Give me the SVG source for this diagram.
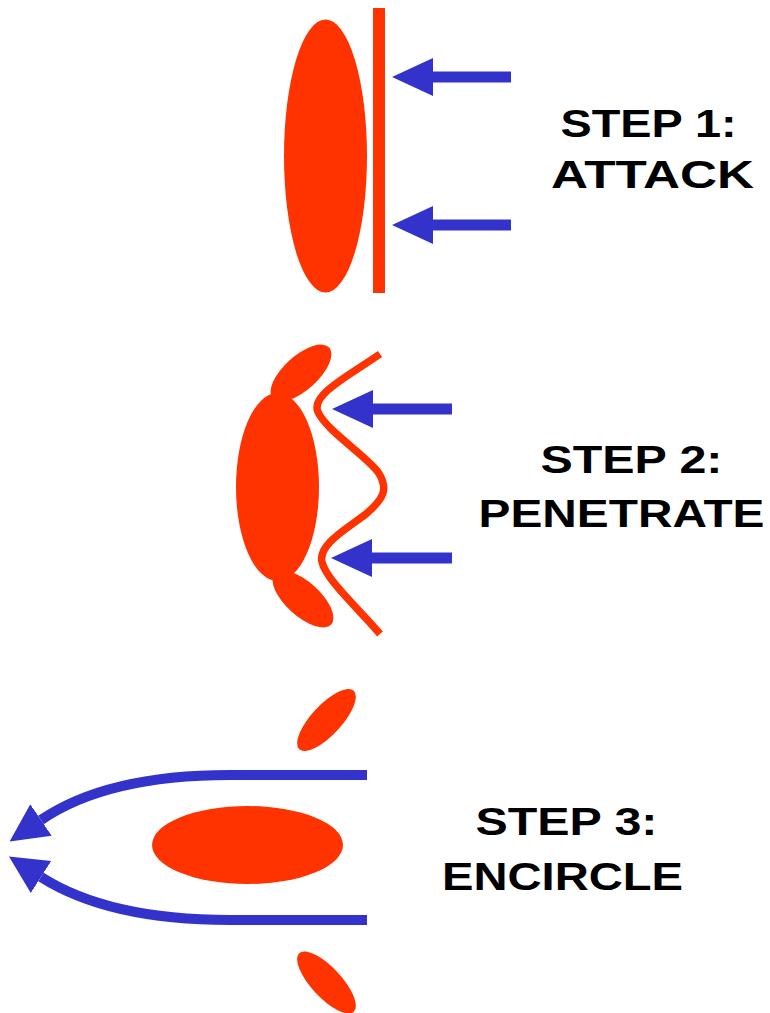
<svg xmlns="http://www.w3.org/2000/svg" width="770" height="1013" viewBox="0 0 770 1013">
  <style>
    .red { fill: #FF3300; }
    .blue { stroke: #3333CC; fill: none; }
    .lbl { font-family: "Liberation Sans", Arial, sans-serif; font-weight: bold; font-size: 38px; fill: #000; text-anchor: middle; }
  </style>
  <defs>
    <marker id="head" markerUnits="userSpaceOnUse" markerWidth="42" markerHeight="40" viewBox="0 0 42 40" refX="0" refY="19" orient="auto">
      <path d="M0,0 L41,19 L0,38 Z" fill="#3333CC"/>
    </marker>
    <marker id="head3" markerUnits="userSpaceOnUse" markerWidth="40" markerHeight="40" viewBox="0 0 40 40" refX="0" refY="19" orient="auto">
      <path d="M0,0 L38,19 L0,38 Z" fill="#3333CC"/>
    </marker>
  </defs>
  <rect width="770" height="1013" fill="#fff"/>

  <g id="step1">
    <ellipse class="red" cx="325.5" cy="156" rx="41.5" ry="136.5"/>
    <rect class="red" x="373" y="8" width="12" height="285"/>
    <text class="lbl" x="648.5" y="137" textLength="176" lengthAdjust="spacingAndGlyphs">STEP 1:</text>
    <text class="lbl" x="652.5" y="188" textLength="203" lengthAdjust="spacingAndGlyphs">ATTACK</text>
  </g>

  <g id="step2">
    <ellipse class="red" cx="277.5" cy="487" rx="41.5" ry="94"/>
    <ellipse class="red" cx="301" cy="373" rx="38" ry="17" transform="rotate(-42 301 373)"/>
    <ellipse class="red" cx="303" cy="599" rx="38" ry="17" transform="rotate(42 303 599)"/>
    <path d="M380,354 C350,375 310,395 318,412 C326,430 365,455 378,472 C390,490 382,500 366,514 C345,530 318,545 322,562 C326,580 360,610 380,634" fill="none" stroke="#FF3300" stroke-width="7.5"/>
    <text class="lbl" x="631.5" y="473" textLength="182" lengthAdjust="spacingAndGlyphs">STEP 2:</text>
    <text class="lbl" x="621.5" y="527" textLength="286" lengthAdjust="spacingAndGlyphs">PENETRATE</text>
  </g>

  <g id="step3">
    <ellipse class="red" cx="247.5" cy="845" rx="95.5" ry="39"/>
    <ellipse class="red" cx="326.5" cy="720" rx="40" ry="15" transform="rotate(-47 326.5 720)"/>
    <ellipse class="red" cx="326.5" cy="982.5" rx="40" ry="15" transform="rotate(47 326.5 982.5)"/>
    <text class="lbl" x="566.5" y="835" textLength="182" lengthAdjust="spacingAndGlyphs">STEP 3:</text>
    <text class="lbl" x="562.5" y="890" textLength="241" lengthAdjust="spacingAndGlyphs">ENCIRCLE</text>
  </g>

  <g id="connectors">
    <path class="blue" d="M511,77 L433,77" stroke-width="11" marker-end="url(#head)"/>
    <path class="blue" d="M511,225 L433,225" stroke-width="11" marker-end="url(#head)"/>
    <path class="blue" d="M452,409 L373,409" stroke-width="11" marker-end="url(#head)"/>
    <path class="blue" d="M452,558 L372,558" stroke-width="11" marker-end="url(#head)"/>
    <path class="blue" d="M367,775 L230,775 C150,775 85,790 41,820" stroke-width="10" marker-end="url(#head3)"/>
    <path class="blue" d="M367,920 L230,920 C150,920 85,905 41,877" stroke-width="10" marker-end="url(#head3)"/>
  </g>
</svg>
